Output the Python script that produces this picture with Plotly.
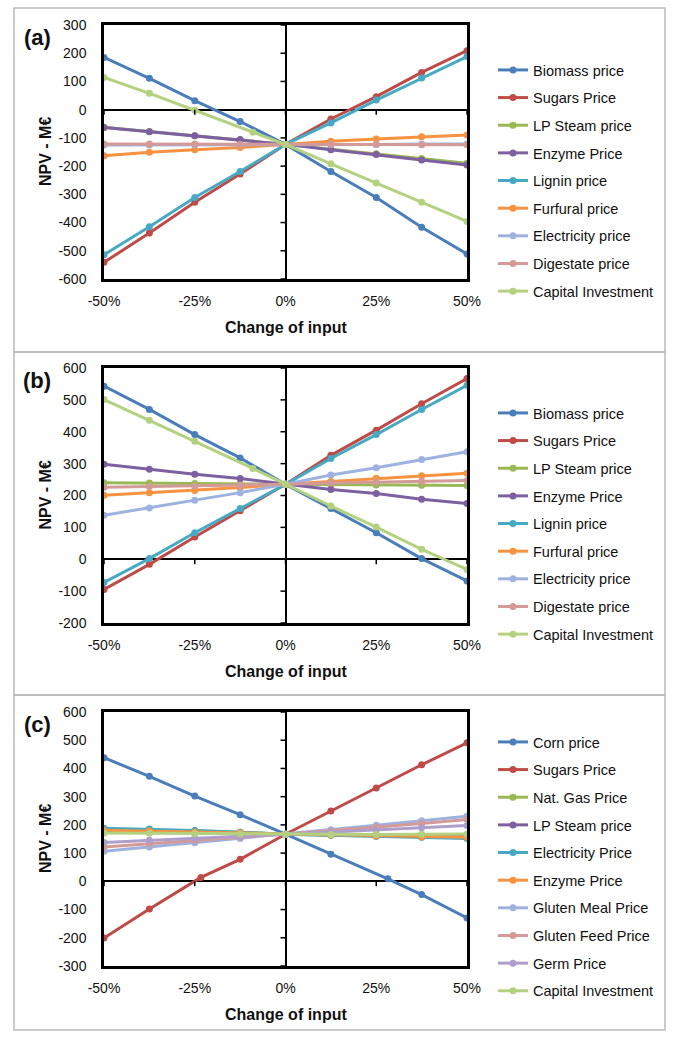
import plotly.graph_objects as go

# ---------------- data ----------------
X = [-0.5, -0.375, -0.25, -0.125, 0.0, 0.125, 0.25, 0.375, 0.5]
X_CAP_AB = [-0.5, -0.375, -0.25, -0.09, 0.0, 0.125, 0.25, 0.375, 0.5]
X_CORN_C = [-0.5, -0.375, -0.25, -0.125, 0.0, 0.125, 0.282, 0.375, 0.5]
X_SUGAR_C = [-0.5, -0.375, -0.233, -0.125, 0.0, 0.125, 0.25, 0.375, 0.5]

NAMES_AB = ["Biomass price", "Sugars Price", "LP Steam price", "Enzyme Price", "Lignin price",
            "Furfural price", "Electricity price", "Digestate price", "Capital Investment"]
NAMES_C = ["Corn price", "Sugars Price", "Nat. Gas Price", "LP Steam price", "Electricity Price",
           "Enzyme Price", "Gluten Meal Price", "Gluten Feed Price", "Germ Price", "Capital Investment"]

biomass_a = [185, 111, 32, -42, -123, -219, -311, -417, -511]
sugars_a = [-541, -437, -328, -228, -123, -33, 46, 132, 209]
lpsteam_a = [-62, -77, -92, -107, -123, -140, -156, -173, -190]
enzyme_a = [-63, -78, -92, -106, -123, -142, -159, -178, -196]
lignin_a = [-514, -415, -311, -219, -123, -47, 34, 112, 188]
furfural_a = [-163, -151, -142, -134, -123, -112, -104, -96, -90]
electricity_a = [-125, -125, -124, -124, -123, -123, -123, -122, -122]
digestate_a = [-122, -122, -122, -123, -123, -123, -123, -124, -124]
capital_a = [114, 58, -2, -80, -123, -192, -260, -328, -396]

biomass_b = [543, 470, 391, 318, 235, 159, 83, 2, -68]
sugars_b = [-95, -16, 70, 152, 235, 326, 405, 488, 567]
lpsteam_b = [240, 239, 238, 237, 235, 234, 233, 232, 231]
enzyme_b = [298, 282, 267, 253, 235, 219, 206, 188, 175]
lignin_b = [-73, 2, 83, 159, 235, 316, 391, 470, 546]
furfural_b = [201, 209, 216, 225, 235, 244, 254, 262, 270]
electricity_b = [138, 161, 185, 209, 235, 264, 287, 313, 337]
digestate_b = [226, 228, 230, 232, 235, 239, 242, 244, 247]
capital_b = [501, 436, 370, 285, 235, 167, 101, 31, -32]

corn_c = [438, 372, 302, 236, 167, 96, 9, -47, -130]
sugars_c = [-201, -98, 14, 78, 167, 249, 331, 413, 491]
natgas_c = [184, 182, 179, 174, 167, 163, 160, 157, 154]
lpsteam_c = [178, 176, 174, 171, 167, 165, 163, 161, 159]
electricity_c = [188, 185, 180, 174, 167, 163, 160, 156, 152]
enzyme_c = [181, 178, 175, 172, 167, 164, 161, 158, 156]
glutenmeal_c = [107, 122, 137, 152, 167, 183, 199, 215, 231]
glutenfeed_c = [122, 134, 145, 156, 167, 179, 192, 205, 219]
germ_c = [138, 146, 153, 160, 167, 175, 182, 190, 198]
capital_c = [171, 170, 169, 168, 167, 166, 166, 167, 168]

X_TICKS = [-0.5, -0.25, 0.0, 0.25, 0.5]
X_TICK_LABELS = ["-50%", "-25%", "0%", "25%", "50%"]
Y_RANGES = [(-600, 300), (-200, 600), (-300, 600)]
PANEL_LABELS = ["(a)", "(b)", "(c)"]

# ---------------- style ----------------
BLUE = "#4A7EBB"
RED = "#BE4B48"
GREEN = "#98B954"
PURPLE = "#7D60A0"
AQUA = "#46AAC5"
ORANGE = "#F69240"
LBLUE = "#9DB2DE"
PINK = "#D49A98"
LGREEN = "#B3D17F"
LPURPLE = "#AE9ECB"

COLORS_AB = [BLUE, RED, GREEN, PURPLE, AQUA, ORANGE, LBLUE, PINK, LGREEN]
COLORS_C = [BLUE, RED, GREEN, PURPLE, AQUA, ORANGE, LBLUE, PINK, LPURPLE, LGREEN]

FONT = "Liberation Sans"
W, H = 674, 1037

panels = [
    dict(xs=[X, X, X, X, X, X, X, X, X_CAP_AB],
         ys=[biomass_a, sugars_a, lpsteam_a, enzyme_a, lignin_a, furfural_a,
             electricity_a, digestate_a, capital_a],
         names=NAMES_AB, colors=COLORS_AB, top=25, bottom=279, box=(8, 352), legend_top=54),
    dict(xs=[X, X, X, X, X, X, X, X, X_CAP_AB],
         ys=[biomass_b, sugars_b, lpsteam_b, enzyme_b, lignin_b, furfural_b,
             electricity_b, digestate_b, capital_b],
         names=NAMES_AB, colors=COLORS_AB, top=368, bottom=623, box=(352, 695), legend_top=397),
    dict(xs=[X_CORN_C, X_SUGAR_C, X, X, X, X, X, X, X, X],
         ys=[corn_c, sugars_c, natgas_c, lpsteam_c, electricity_c, enzyme_c,
             glutenmeal_c, glutenfeed_c, germ_c, capital_c],
         names=NAMES_C, colors=COLORS_C, top=712, bottom=966, box=(695, 1030), legend_top=726),
]

PX_L, PX_R = 104, 467

fig = go.Figure()
shapes = []
annotations = []
layout = dict(width=W, height=H, margin=dict(l=0, r=0, t=0, b=0, pad=0, autoexpand=False),
              paper_bgcolor="white", plot_bgcolor="white", showlegend=True)

for i, p in enumerate(panels):
    k = i + 1
    xa = "x" if k == 1 else f"x{k}"
    ya = "y" if k == 1 else f"y{k}"
    lg = "legend" if k == 1 else f"legend{k}"
    for j, (xs, ys, nm, col) in enumerate(zip(p["xs"], p["ys"], p["names"], p["colors"])):
        fig.add_trace(go.Scatter(
            x=xs, y=ys, name=nm, mode="lines+markers",
            line=dict(color=col, width=3), marker=dict(color=col, size=7),
            xaxis=xa, yaxis=ya, legend=lg, legendgroup=f"p{k}s{j}"))
    ymin, ymax = Y_RANGES[i]
    yvals = list(range(ymin, ymax + 1, 100))
    dom_y = [1 - p["bottom"] / H, 1 - p["top"] / H]
    dom_x = [PX_L / W, PX_R / W]
    layout["xaxis" if k == 1 else f"xaxis{k}"] = dict(
        domain=dom_x, anchor=ya, range=[-0.5, 0.5], tickvals=X_TICKS, ticktext=X_TICK_LABELS,
        showgrid=False, zeroline=True, zerolinecolor="black", zerolinewidth=2,
        showline=True, linecolor="black", linewidth=2.5, mirror=True, automargin=False,
        ticks="outside", ticklen=7, tickcolor="rgba(0,0,0,0)",
        tickfont=dict(family=FONT, size=14, color="#111"))
    layout["yaxis" if k == 1 else f"yaxis{k}"] = dict(
        domain=dom_y, anchor=xa, range=[ymin, ymax], tickvals=yvals, ticktext=[str(v) for v in yvals],
        showgrid=False, zeroline=True, zerolinecolor="black", zerolinewidth=2,
        showline=True, linecolor="black", linewidth=2.5, mirror=True, automargin=False,
        ticks="outside", ticklen=12, tickcolor="rgba(0,0,0,0)",
        tickfont=dict(family=FONT, size=14, color="#111"))
    layout[lg] = dict(x=493 / W, xanchor="left", y=1 - p["legend_top"] / H, yanchor="top",
                      font=dict(family=FONT, size=14.5, color="#111"), tracegroupgap=5.8,
                      bgcolor="rgba(0,0,0,0)", itemclick=False)
    # tick marks along zero lines
    for tv in X_TICKS:
        shapes.append(dict(type="line", xref=xa, yref=ya, x0=tv, x1=tv, ysizemode="pixel",
                           yanchor=0, y0=-5, y1=0, line=dict(color="black", width=1.5)))
    for yv in yvals:
        shapes.append(dict(type="line", xref=xa, yref=ya, y0=yv, y1=yv, xsizemode="pixel",
                           xanchor=0, x0=-5, x1=0, line=dict(color="black", width=1.5)))
    # outer panel box
    b0, b1 = p["box"]
    shapes.append(dict(type="rect", xref="paper", yref="paper", x0=14 / W, x1=665 / W,
                       y0=1 - b1 / H, y1=1 - b0 / H, line=dict(color="#BBBBBB", width=1.5),
                       layer="below"))
    # titles
    annotations.append(dict(text="<b>NPV - M€</b>", xref="paper", yref="paper", x=45 / W,
                            y=1 - (p["top"] + p["bottom"]) / 2 / H, textangle=-90, showarrow=False,
                            font=dict(family=FONT, size=16, color="#111"), xanchor="center",
                            yanchor="middle"))
    annotations.append(dict(text="<b>Change of input</b>", xref="paper", yref="paper",
                            x=(PX_L + PX_R) / 2 / W, y=1 - (p["bottom"] + 48) / H, showarrow=False,
                            font=dict(family=FONT, size=16, color="#111"), xanchor="center",
                            yanchor="middle"))
    annotations.append(dict(text=f"<b>{PANEL_LABELS[i]}</b>", xref="paper", yref="paper",
                            x=37 / W, y=1 - (p["top"] + 12) / H, showarrow=False,
                            font=dict(family=FONT, size=22, color="#111"), xanchor="center",
                            yanchor="middle"))

layout["shapes"] = shapes
layout["annotations"] = annotations
fig.update_layout(**layout)
fig.write_html("out.html", config={"displayModeBar": False},
               post_script="document.body.style.margin='0';document.body.style.padding='0';")
